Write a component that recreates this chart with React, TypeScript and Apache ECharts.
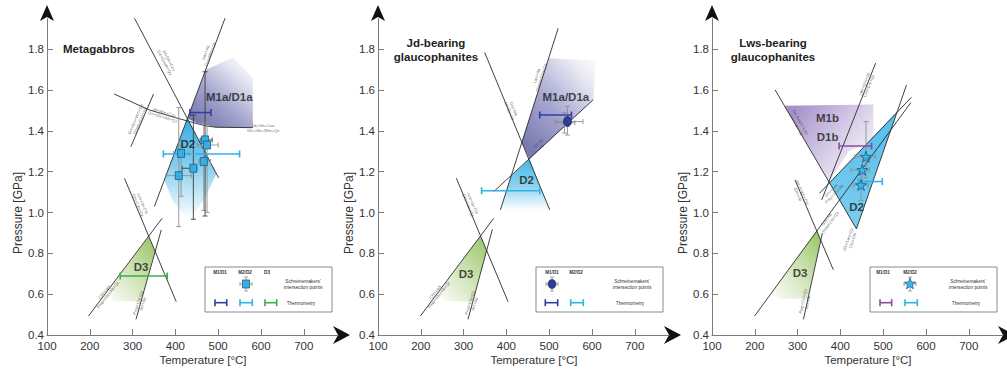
import React, { useEffect, useRef } from "react";
import * as echarts from "echarts";

const FONT = "'Liberation Sans', Arial, Helvetica, sans-serif";

// ---------------- axes ----------------
const X_TICKS = [100, 200, 300, 400, 500, 600, 700];
const Y_TICKS = [0.4, 0.6, 0.8, 1.0, 1.2, 1.4, 1.6, 1.8];
const X_RANGE = [100, 780];
const Y_RANGE = [0.4, 1.95];
const X_NAME = "Temperature [°C]";
const Y_NAME = "Pressure [GPa]";
const TITLES = [["Metagabbros"], ["Jd-bearing", "glaucophanites"], ["Lws-bearing", "glaucophanites"]];

// ---------------- colours ----------------
const COL_M1 = "#30409e";
const COL_M2 = "#2bb4e8";
const COL_D3 = "#38ae48";
const COL_M1B = "#8a4c9f";

// ---------------- Panel 1 : Metagabbros ----------------
const p1Lines = [
  [[300, 1.97], [501, 1.17]],
  [[351, 1.03], [521, 1.98]],
  [[257, 1.581], [339, 1.503], [400, 1.465], [433, 1.446], [470, 1.425], [495, 1.418], [581, 1.416]],
  [[296, 1.323], [349, 1.581]],
  [[281, 1.168], [402, 0.563]],
  [[197, 0.493], [369, 0.972]],
  [[308, 0.477], [367, 0.915]],
];
const p1FieldM1 = [[428, 1.461], [471, 1.7], [535, 1.76], [581, 1.66], [581, 1.416], [495, 1.418], [450, 1.44]];
const p1FieldD2 = [[428, 1.461], [496, 1.19], [466, 1.06], [432, 0.965], [395, 1.05], [374, 1.16]];
const p1FieldD3 = [[338, 0.884], [352, 0.809], [319.5, 0.565], [255, 0.565], [236, 0.6]];
const p1Points = [[469.4, 1.356], [474, 1.331], [413.3, 1.29], [442, 1.217], [466.3, 1.25], [407.9, 1.181]];
// [T, P, Tmin, Tmax, Pmin, Pmax, dark?]
const p1Errors = [
  [407.9, 1.181, 378, 437, 0.931, 1.514, 0],
  [413.3, 1.29, 396, 432, 1.08, 1.33, 0],
  [442, 1.217, 416, 450, 0.967, 1.478, 1],
  [466.3, 1.25, 455, 482, 1.01, 1.446, 0],
  [469.4, 1.356, 458, 486, 0.983, 1.69, 1],
  [474, 1.331, 452, 500, 1.0, 1.44, 0],
];
// [Tmin, Tmax, P, colourIndex]
const p1Thermo = [[434, 483, 1.49, 0], [372, 550, 1.287, 1], [271, 381, 0.689, 2]];
const p1FieldLabels = [[526, 1.565, "M1a/D1a"], [429, 1.336, "D2"], [320, 0.735, "D3"]];
const p1LineLabels = [
  [380, 1.74, "Jd+Gln+Czo\nGrt+Omph+Qz", -62],
  [476, 1.78, "Lws+Ab\nCzo+Wm+Qz", 69],
  [605, 1.414, "Jd+Grt+Czo\nGrt+Gln+Wm+Qz", 0],
  [372, 1.48, "Jd+Wm+Czo\nGrt+Gln+Ab+Qz", -17],
  [312, 1.454, "Grt+Gln+Wm+Qz\nOmph+Czo+Ab", 67],
  [318, 1.04, "Act+Ab+Chl\nGln+Czo+Qz", -67],
  [238, 0.604, "Chl+Lws\nPmp+Gln+Ab+Qz", 52],
  [318, 0.555, "Pmp+Chl+Qz\nAct+Ab", 72],
];

// ---------------- Panel 2 : Jd-bearing glaucophanites ----------------
const p2Lines = [
  [[349.4, 1.784], [501.4, 1.013]],
  [[386, 1.013], [521, 1.903]],
  [[370.5, 1.103], [603, 1.553]],
  [[283.2, 1.168], [404, 0.563]],
  [[199, 0.493], [370.5, 0.972]],
  [[310.4, 0.477], [367.3, 0.918]],
];
const p2FieldM1 = [[454, 1.262], [436, 1.345], [498.6, 1.756], [610, 1.745], [603, 1.553]];
const p2FieldD2 = [[454, 1.262], [410.2, 1.177], [386, 1.013], [501.4, 1.013]];
const p2FieldD3 = [[339.6, 0.886], [353.9, 0.814], [321.8, 0.565], [257, 0.565], [238, 0.6]];
const p2Points = [[542.7, 1.446]];
const p2Errors = [
  [542.7, 1.446, 513, 579, 1.38, 1.52, 0],
  [536, 1.44, 516, 560, 1.39, 1.49, 0],
];
const p2Thermo = [[478, 552, 1.478, 0], [342, 478, 1.107, 1]];
const p2FieldLabels = [[539, 1.565, "M1a/D1a"], [447, 1.16, "D2"], [306, 0.699, "D3"]];
const p2LineLabels = [
  [412, 1.503, "Grt+Gln\nJd+Qz+Ab", -68],
  [476, 1.666, "Lws+Ab\nOmph+Czo+Qz", 72],
  [478, 1.331, "Jd+Qz\nAb", 42],
  [316, 1.04, "Act+Ab+Chl\nGln+Czo+Qz", -67],
  [238, 0.604, "Chl+Lws\nPmp+Gln+Ab+Qz", 52],
  [320, 0.555, "Pmp+Chl+Qz\nAct+Ab", 72],
];

// ---------------- Panel 3 : Lws-bearing glaucophanites ----------------
const p3Lines = [
  [[247.6, 1.601], [437.5, 0.92]],
  [[356.4, 1.062], [482.3, 1.732]],
  [[199.5, 0.493], [564.6, 1.539]],
  [[351, 1.094], [566.2, 1.565]],
  [[554.5, 1.625], [437.5, 0.92]],
  [[294, 1.16], [383.6, 0.719]],
  [[313.7, 0.477], [358, 0.9]],
];
const p3FieldM1 = [[269.4, 1.523], [477, 1.53], [477, 1.35], [420, 1.3], [373.1, 1.151]];
const p3FieldD2 = [[374.4, 1.146], [532.9, 1.495], [437.5, 0.92]];
const p3FieldD3 = [[344.8, 0.91], [353.9, 0.866], [324, 0.58], [262, 0.575], [236.6, 0.6]];
const p3Points = [[459.8, 1.274], [451.2, 1.209], [448.1, 1.135]];
const p3Errors = [
  [459.8, 1.274, 434, 482, 1.17, 1.446, 0],
  [451.2, 1.209, 425, 468, 1.14, 1.28, 0],
  [448.1, 1.135, 430, 465, 1.06, 1.2, 0],
];
const p3Thermo = [[397, 473, 1.326, 3], [442, 498, 1.152, 1]];
const p3FieldLabels = [[370, 1.462, "M1b"], [370, 1.372, "D1b"], [438, 1.029, "D2"], [306, 0.702, "D3"]];
const p3LineLabels = [
  [302, 1.437, "Na-Amph+Lws\nGln+Czo+Qz", -60],
  [461, 1.625, "Lws+Gln+Ab\nCzo+Chl+Qz", 68],
  [382, 1.1, "Gln+Lws\nPmp+Chl+Ab", 46],
  [372, 0.96, "Gln+Ab\nPmp+Chl+Qz", 54],
  [423, 0.866, "Gln+Lws+Qz\nCzo+Chl", 70],
  [306, 1.094, "Na-Amph+Chl\nGln+Ab", -67],
  [318, 0.563, "Pmp+Chl+Qz\nAct+Ab", 78],
];

// ---------------- layout ----------------
const PANEL_LEFT = [47, 378, 712];
const GRID_TOP = 18.7;
const GRID_W = 291;
const GRID_H = 316.3;
const AXIS_Y = GRID_TOP + GRID_H;

const STAR_PATH =
  "path://M50,2 L61.2,36.6 L97.6,36.6 L68.2,58 L79.4,92.6 L50,71.2 L20.6,92.6 L31.8,58 L2.4,36.6 L38.8,36.6 Z";
const THERMO_COLORS = [COL_M1, COL_M2, COL_D3, COL_M1B];

type Grad = { dir: number[]; stops: [number, string][] };
const GRAD_M1A: Grad = { dir: [0.1, 1, 0.9, 0], stops: [[0, "#6e70a8"], [0.4, "#9fa0cb"], [0.8, "#e6e6f2"], [1, "#ffffff"]] };
const GRAD_M1A2: Grad = { dir: [0.1, 1, 0.9, 0], stops: [[0, "#7274ac"], [0.45, "#a4a5cf"], [0.85, "#e8e8f3"], [1, "#f8f8fc"]] };
const GRAD_D2: Grad = { dir: [0, 0, 0, 1], stops: [[0, "#36ace0"], [0.45, "#82cdee"], [1, "#ffffff"]] };
const GRAD_D2B: Grad = { dir: [0, 0, 0, 1], stops: [[0, "#45b6e6"], [0.55, "#8fd3f1"], [1, "#ffffff"]] };
const GRAD_D2C: Grad = { dir: [0.5, 0, 0.5, 1], stops: [[0, "#56bfea"], [1, "#7ccdf0"]] };
const GRAD_D3: Grad = { dir: [1, 0, 0.1, 1], stops: [[0, "#97c463"], [0.5, "#cde2b3"], [1, "#fafcf6"]] };
const GRAD_M1B: Grad = { dir: [0, 0.2, 1, 0.9], stops: [[0, "#a690cb"], [0.5, "#d5cbe7"], [1, "#ffffff"]] };

function lineSeries(gi: number, pts: number[][]) {
  return {
    type: "line", xAxisIndex: gi, yAxisIndex: gi, data: pts, symbol: "none", silent: true, z: 3,
    lineStyle: { color: "#2a2a2a", width: 0.9 },
  };
}

function fieldSeries(gi: number, pts: number[][], g: Grad) {
  return {
    type: "custom", xAxisIndex: gi, yAxisIndex: gi, silent: true, z: 1, data: [pts[0]],
    renderItem: (_p: any, api: any) => ({
      type: "polygon",
      shape: { points: pts.map((q) => api.coord(q)) },
      style: {
        fill: new echarts.graphic.LinearGradient(g.dir[0], g.dir[1], g.dir[2], g.dir[3],
          g.stops.map((s) => ({ offset: s[0], color: s[1] }))),
      },
    }),
  };
}

function seg(x1: number, y1: number, x2: number, y2: number, stroke: string, lineWidth: number) {
  return { type: "line", shape: { x1, y1, x2, y2 }, style: { stroke, lineWidth } };
}

function errorSeries(gi: number, rows: number[][]) {
  return {
    type: "custom", xAxisIndex: gi, yAxisIndex: gi, silent: true, z: 4, data: rows,
    renderItem: (_p: any, api: any) => {
      const t = api.value(0), p = api.value(1);
      const stroke = api.value(6) === 1 ? "#3c3c3c" : "#8f8f8f";
      const L = api.coord([api.value(2), p]);
      const R = api.coord([api.value(3), p]);
      const B = api.coord([t, api.value(4)]);
      const T = api.coord([t, api.value(5)]);
      const c = 2.5;
      const w = 0.9;
      return {
        type: "group",
        children: [
          seg(L[0], L[1], R[0], R[1], stroke, w),
          seg(L[0], L[1] - c, L[0], L[1] + c, stroke, w),
          seg(R[0], R[1] - c, R[0], R[1] + c, stroke, w),
          seg(B[0], B[1], T[0], T[1], stroke, w),
          seg(B[0] - c, B[1], B[0] + c, B[1], stroke, w),
          seg(T[0] - c, T[1], T[0] + c, T[1], stroke, w),
        ],
      };
    },
  };
}

function thermoSeries(gi: number, rows: number[][]) {
  return {
    type: "custom", xAxisIndex: gi, yAxisIndex: gi, silent: true, z: 6, data: rows,
    renderItem: (_p: any, api: any) => {
      const color = THERMO_COLORS[api.value(3)];
      const L = api.coord([api.value(0), api.value(2)]);
      const R = api.coord([api.value(1), api.value(2)]);
      const c = 3.5;
      const w = 1.6;
      return {
        type: "group",
        children: [
          seg(L[0], L[1], R[0], R[1], color, w),
          seg(L[0], L[1] - c, L[0], L[1] + c, color, w),
          seg(R[0], R[1] - c, R[0], R[1] + c, color, w),
        ],
      };
    },
  };
}

function pointSeries(gi: number, pts: number[][], symbol: string, size: number[], fill: string, stroke: string) {
  return {
    type: "scatter", xAxisIndex: gi, yAxisIndex: gi, silent: true, z: 7, data: pts,
    symbol, symbolSize: size,
    itemStyle: { color: fill, borderColor: stroke, borderWidth: 0.8, opacity: 1 },
  };
}

function fieldLabelSeries(gi: number, rows: any[]) {
  return {
    type: "scatter", xAxisIndex: gi, yAxisIndex: gi, silent: true, z: 8, symbolSize: 1,
    itemStyle: { color: "rgba(0,0,0,0)" },
    data: rows.map((r) => ({ value: [r[0], r[1]], name: r[2] })),
    label: {
      show: true, position: "inside", formatter: "{b}",
      fontFamily: FONT, fontSize: 11.5, fontWeight: "bold", color: "#1a1a1a",
    },
  };
}

function lineLabelSeries(gi: number, rows: any[]) {
  return {
    type: "scatter", xAxisIndex: gi, yAxisIndex: gi, silent: true, z: 5, symbolSize: 1,
    itemStyle: { color: "rgba(0,0,0,0)" },
    data: rows.map((r) => ({ value: [r[0], r[1]], name: r[2], label: { rotate: r[3] } })),
    label: {
      show: true, position: "inside", formatter: "{b}",
      fontFamily: FONT, fontSize: 4.2, lineHeight: 4.8, color: "#444", align: "center",
    },
  };
}

function tEl(x: number, y: number, text: string, size: number, opts: any = {}) {
  return {
    type: "text", x, y, silent: true, rotation: opts.rotation || 0,
    style: {
      text, fontFamily: FONT, fontSize: size, fontWeight: opts.bold ? "bold" : "normal",
      fill: opts.color || "#222", align: opts.align || "center", verticalAlign: "middle",
    },
  };
}

function lseg(x1: number, y1: number, x2: number, y2: number, stroke: string, lineWidth: number) {
  return { type: "line", silent: true, shape: { x1, y1, x2, y2 }, style: { stroke, lineWidth } };
}

function capBar(x1: number, x2: number, y: number, color: string) {
  return [lseg(x1, y, x2, y, color, 1.6), lseg(x1, y - 3.5, x1, y + 3.5, color, 1.6), lseg(x2, y - 3.5, x2, y + 3.5, color, 1.6)];
}

function starPoints(cx: number, cy: number, r: number) {
  const out: number[][] = [];
  for (let i = 0; i < 10; i++) {
    const a = -Math.PI / 2 + (i * Math.PI) / 5;
    const rr = i % 2 === 0 ? r : r * 0.42;
    out.push([cx + rr * Math.cos(a), cy + rr * Math.sin(a)]);
  }
  return out;
}

function legendGroup(panel: number) {
  const L = PANEL_LEFT[panel] + 158;
  const Y = 267;
  const els: any[] = [
    { type: "rect", silent: true, shape: { x: L, y: Y, width: 127, height: 45 }, style: { fill: "#fff", stroke: "#6d6d6d", lineWidth: 0.8 } },
  ];
  const hdr = (x: number, s: string) => els.push(tEl(L + x, Y + 5, s, 4.6, { bold: true, color: "#333" }));
  const mx = panel === 1 ? 16 : panel === 2 ? 40 : 41;
  const txtX = panel === 1 ? 76 : 78;
  if (panel === 0) { hdr(15, "M1/D1"); hdr(40, "M2/D2"); hdr(62, "D3"); }
  else if (panel === 1) { hdr(16, "M1/D1"); hdr(40, "M2/D2"); }
  else { hdr(13, "M1/D1"); hdr(40, "M2/D2"); }
  // marker with error bars
  const my = Y + 17;
  els.push(lseg(L + mx - 6, my, L + mx + 6, my, "#8f8f8f", 0.8));
  els.push(lseg(L + mx - 6, my - 2, L + mx - 6, my + 2, "#8f8f8f", 0.8));
  els.push(lseg(L + mx + 6, my - 2, L + mx + 6, my + 2, "#8f8f8f", 0.8));
  els.push(lseg(L + mx, my - 7, L + mx, my + 7, "#8f8f8f", 0.8));
  els.push(lseg(L + mx - 2, my - 7, L + mx + 2, my - 7, "#8f8f8f", 0.8));
  els.push(lseg(L + mx - 2, my + 7, L + mx + 2, my + 7, "#8f8f8f", 0.8));
  if (panel === 0) {
    els.push({ type: "rect", silent: true, shape: { x: L + mx - 3.5, y: my - 4, width: 7, height: 8 }, style: { fill: "#35aee2", stroke: "#1c5f86", lineWidth: 0.8 } });
  } else if (panel === 1) {
    els.push({ type: "ellipse", silent: true, shape: { cx: L + mx, cy: my, rx: 4, ry: 4.5 }, style: { fill: "#2e3d96", stroke: "#1d2766", lineWidth: 0.6 } });
  } else {
    els.push({ type: "polygon", silent: true, shape: { points: starPoints(L + mx, my, 6) }, style: { fill: "#3fb5e8", stroke: "#1b5a82", lineWidth: 0.7 } });
  }
  els.push(tEl(L + txtX + 20, Y + 14.7, "Schreinemakers'", 4.8, { color: "#333" }));
  els.push(tEl(L + txtX + 20, Y + 20.3, "intersection points", 4.8, { color: "#333" }));
  els.push(tEl(L + txtX + 18, Y + 36.3, "Thermometry", 4.8, { color: "#333" }));
  const by = Y + 35.7;
  if (panel === 0) { els.push(...capBar(L + 10, L + 21.7, by, COL_M1), ...capBar(L + 35, L + 47.3, by, COL_M2), ...capBar(L + 60, L + 71.7, by, COL_D3)); }
  else if (panel === 1) { els.push(...capBar(L + 9.3, L + 21.7, by, COL_M1), ...capBar(L + 34.7, L + 47.3, by, COL_M2)); }
  else { els.push(...capBar(L + 10, L + 21.7, by, COL_M1B), ...capBar(L + 35, L + 47.3, by, COL_M2)); }
  return els;
}

function buildOption() {
  const grids: any[] = [];
  const xAxes: any[] = [];
  const yAxes: any[] = [];
  const graphic: any[] = [];
  const axisColor = "#7b7b7b";
  PANEL_LEFT.forEach((L, i) => {
    grids.push({ left: L, top: GRID_TOP, width: GRID_W, height: GRID_H, outerBoundsMode: "none" });
    xAxes.push({
      type: "value", gridIndex: i, min: X_RANGE[0], max: X_RANGE[1],
      axisLine: { show: true, onZero: false, lineStyle: { color: axisColor, width: 1 } },
      axisTick: { show: true, inside: true, length: 6, customValues: X_TICKS, lineStyle: { color: axisColor } },
      axisLabel: { customValues: X_TICKS, margin: 5, fontFamily: FONT, fontSize: 11.5, color: "#333" },
      splitLine: { show: false },
    });
    yAxes.push({
      type: "value", gridIndex: i, min: Y_RANGE[0], max: Y_RANGE[1],
      axisLine: { show: true, onZero: false, lineStyle: { color: axisColor, width: 1 } },
      axisTick: { show: true, inside: true, length: 6, customValues: Y_TICKS, lineStyle: { color: axisColor } },
      axisLabel: {
        customValues: Y_TICKS, margin: 3, fontFamily: FONT, fontSize: 11.5, color: "#333",
        formatter: (v: number) => v.toFixed(1),
      },
      splitLine: { show: false },
    });
    // arrows
    graphic.push({
      type: "polygon", silent: true,
      shape: { points: [[L, 5], [L + 7, 21], [L, 17], [L - 7, 21]] },
      style: { fill: "#111" },
    });
    graphic.push({
      type: "polygon", silent: true,
      shape: { points: [[L + 303, AXIS_Y], [L + 286, AXIS_Y - 9], [L + 291, AXIS_Y], [L + 286, AXIS_Y + 9]] },
      style: { fill: "#111" },
    });
    // axis names
    graphic.push(tEl(L + 156, 360, X_NAME, 11.5, { color: "#333" }));
    graphic.push(tEl(L - 29, 213, Y_NAME, 12, { color: "#333", rotation: Math.PI / 2 }));
    // titles
    const t = TITLES[i];
    if (t.length === 1) graphic.push(tEl(L + 16, 49, t[0], 11.5, { bold: true, align: "left" }));
    else {
      const cx = i === 1 ? L + 58 : L + 61;
      graphic.push(tEl(cx, 43, t[0], 11.5, { bold: true }));
      graphic.push(tEl(cx, 56.5, t[1], 11.5, { bold: true }));
    }
    graphic.push(...legendGroup(i));
  });

  const series: any[] = [];
  // Panel 1
  series.push(fieldSeries(0, p1FieldM1, GRAD_M1A), fieldSeries(0, p1FieldD2, GRAD_D2), fieldSeries(0, p1FieldD3, GRAD_D3));
  p1Lines.forEach((l) => series.push(lineSeries(0, l)));
  series.push(lineLabelSeries(0, p1LineLabels), errorSeries(0, p1Errors));
  series.push(pointSeries(0, p1Points, "rect", [7, 8], "#35aee2", "#1c5f86"));
  series.push(thermoSeries(0, p1Thermo), fieldLabelSeries(0, p1FieldLabels));
  // Panel 2
  series.push(fieldSeries(1, p2FieldM1, GRAD_M1A2), fieldSeries(1, p2FieldD2, GRAD_D2B), fieldSeries(1, p2FieldD3, GRAD_D3));
  p2Lines.forEach((l) => series.push(lineSeries(1, l)));
  series.push(lineLabelSeries(1, p2LineLabels), errorSeries(1, p2Errors));
  series.push(pointSeries(1, p2Points, "circle", [8, 10], "#2e3d96", "#1d2766"));
  series.push(thermoSeries(1, p2Thermo), fieldLabelSeries(1, p2FieldLabels));
  // Panel 3
  series.push(fieldSeries(2, p3FieldM1, GRAD_M1B), fieldSeries(2, p3FieldD2, GRAD_D2C), fieldSeries(2, p3FieldD3, GRAD_D3));
  p3Lines.forEach((l) => series.push(lineSeries(2, l)));
  series.push(lineLabelSeries(2, p3LineLabels), errorSeries(2, p3Errors));
  series.push(pointSeries(2, p3Points, STAR_PATH, [11, 11], "#3fb5e8", "#1b5a82"));
  series.push(thermoSeries(2, p3Thermo), fieldLabelSeries(2, p3FieldLabels));

  return {
    animation: false,
    backgroundColor: "#ffffff",
    grid: grids,
    xAxis: xAxes,
    yAxis: yAxes,
    series,
    graphic: { elements: graphic },
  };
}

export default function App() {
  const ref = useRef<HTMLDivElement>(null);
  useEffect(() => {
    if (!ref.current) return;
    const chart = echarts.init(ref.current, null, { renderer: "svg" });
    chart.setOption(buildOption() as any);
    return () => chart.dispose();
  }, []);
  return (
    <div
      ref={ref}
      style={{ position: "fixed", left: 0, top: 0, width: 1007, height: 372, background: "#fff" }}
    />
  );
}
